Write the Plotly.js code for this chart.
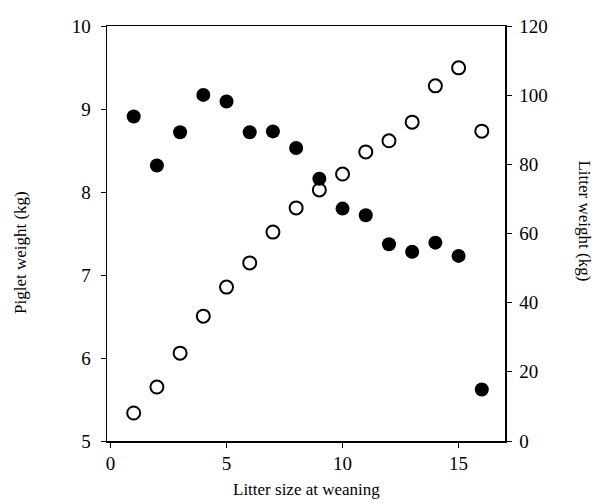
<!DOCTYPE html>
<html><head><meta charset="utf-8">
<script src="https://cdn.plot.ly/plotly-3.0.1.min.js"></script>
<style>body{margin:0;background:#fff}#c{width:600px;height:504px}</style>
</head><body><div id="c"></div>
<script>
const litterSize = [1,2,3,4,5,6,7,8,9,10,11,12,13,14,15,16];
const pigletWeight = [8.91,8.32,8.72,9.17,9.09,8.72,8.73,8.53,8.16,7.80,7.72,7.37,7.28,7.39,7.23,5.62];
const litterWeight = [8.1,15.6,25.4,36.1,44.5,51.5,60.4,67.4,72.6,77.2,83.6,86.8,92.2,102.7,107.9,89.6];
const xTicks = [0,5,10,15];
const leftTicks = [5,6,7,8,9,10];
const rightTicks = [0,20,40,60,80,100,120];
const xTitle = "Litter size at weaning";
const leftTitle = "Piglet weight (kg)";
const rightTitle = "Litter weight (kg)";

const font = {family: "Liberation Serif, Times New Roman, serif", size: 17, color: "#000"};
const tfont = {family: "Liberation Serif, Times New Roman, serif", size: 19, color: "#000"};
const traces = [
  {x: litterSize, y: litterWeight, yaxis: "y2", mode: "markers", type: "scatter",
   marker: {symbol: "circle-open", size: 13, color: "#000", line: {width: 2, color: "#000"}}},
  {x: litterSize, y: pigletWeight, yaxis: "y", mode: "markers", type: "scatter",
   marker: {symbol: "circle", size: 14, color: "#000"}}
];
const layout = {
  width: 600, height: 504,
  margin: {l: 107, r: 95, t: 26, b: 63},
  paper_bgcolor: "#fff", plot_bgcolor: "#fff",
  showlegend: false, font: font,
  xaxis: {range: [-0.15, 17], tickvals: xTicks, ticktext: xTicks.map(String),
    showgrid: false, zeroline: false, showline: true, linecolor: "#000", linewidth: 1.5,
    mirror: true, ticks: "outside", ticklen: 5, tickcolor: "#000", tickfont: tfont},
  yaxis: {range: [5, 10], tickvals: leftTicks, ticktext: leftTicks.map(String),
    showgrid: false, zeroline: false, showline: true, linecolor: "#000", linewidth: 1.5,
    ticks: "outside", ticklen: 5, tickcolor: "#000", tickfont: tfont, ticklabelstandoff: 6},
  yaxis2: {range: [0, 120], overlaying: "y", side: "right", tickvals: rightTicks, ticktext: rightTicks.map(String),
    showgrid: false, zeroline: false, showline: true, linecolor: "#000", linewidth: 1.5,
    ticks: "outside", ticklen: 5, tickcolor: "#000", tickfont: tfont, ticklabelstandoff: 4},
  annotations: [
    {text: xTitle, xref: "paper", yref: "paper", x: 0.5, y: -0.118, xanchor: "center", yanchor: "middle", showarrow: false, font: font},
    {text: leftTitle, xref: "paper", yref: "paper", x: -0.219, y: 0.455, xanchor: "center", yanchor: "middle", textangle: -90, showarrow: false, font: font},
    {text: rightTitle, xref: "paper", yref: "paper", x: 1.2, y: 0.53, xanchor: "center", yanchor: "middle", textangle: 90, showarrow: false, font: font}
  ]
};
Plotly.newPlot("c", traces, layout, {displayModeBar: false, staticPlot: true});
</script>
</body></html>
